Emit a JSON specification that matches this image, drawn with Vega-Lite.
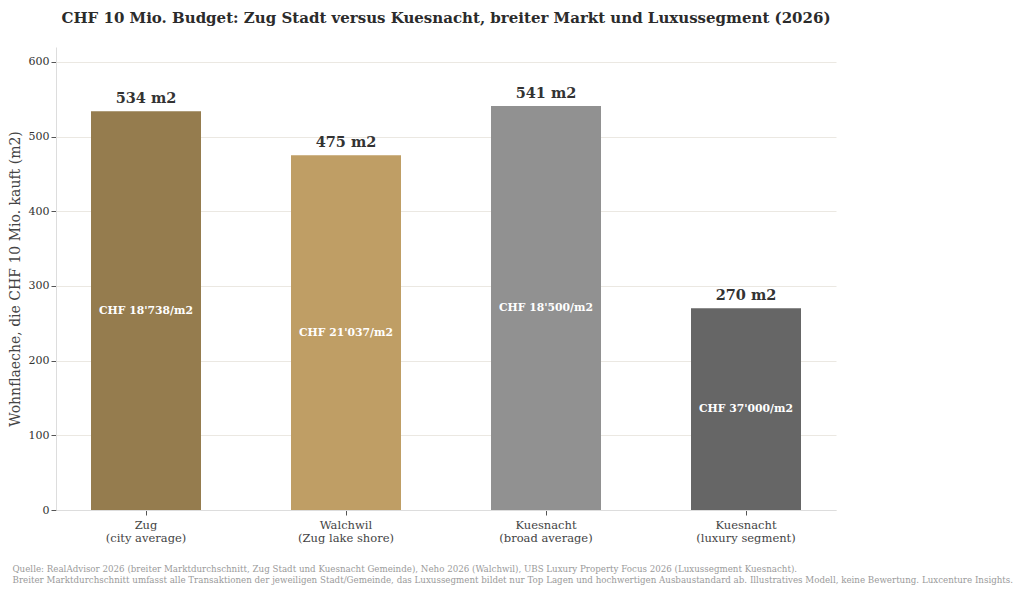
{
  "$schema": "https://vega.github.io/schema/vega-lite/v6.json",
  "title": {
    "text": "CHF 10 Mio. Budget: Zug Stadt versus Kuesnacht, breiter Markt und Luxussegment (2026)",
    "font": "DejaVu Serif",
    "fontSize": 15,
    "fontWeight": "bold",
    "color": "#2b2b2b",
    "anchor": "middle",
    "offset": 21
  },
  "width": 780,
  "height": 463,
  "padding": {"left": 8, "top": 11, "right": 5, "bottom": 5},
  "data": {
    "values": [
      {"ort": "Zug|(city average)", "m2": 534, "label": "534 m2", "preis": "CHF 18'738/m2", "farbe": "#957c4e"},
      {"ort": "Walchwil|(Zug lake shore)", "m2": 475, "label": "475 m2", "preis": "CHF 21'037/m2", "farbe": "#bf9e65"},
      {"ort": "Kuesnacht|(broad average)", "m2": 541, "label": "541 m2", "preis": "CHF 18'500/m2", "farbe": "#919191"},
      {"ort": "Kuesnacht|(luxury segment)", "m2": 270, "label": "270 m2", "preis": "CHF 37'000/m2", "farbe": "#666666"}
    ]
  },
  "encoding": {
    "x": {
      "field": "ort",
      "type": "nominal",
      "sort": null,
      "scale": {"paddingInner": 0.45, "paddingOuter": 0.175},
      "axis": {
        "labelAngle": 0,
        "labelExpr": "split(datum.label, '|')",
        "labelFont": "DejaVu Serif",
        "labelFontSize": 11.5,
        "labelColor": "#444444",
        "labelPadding": 4,
        "tickColor": "#555555",
        "tickSize": 5,
        "domainColor": "#dddddd",
        "title": [
          "Quelle: RealAdvisor 2026 (breiter Marktdurchschnitt, Zug Stadt und Kuesnacht Gemeinde), Neho 2026 (Walchwil), UBS Luxury Property Focus 2026 (Luxussegment Kuesnacht).",
          "Breiter Marktdurchschnitt umfasst alle Transaktionen der jeweiligen Stadt/Gemeinde, das Luxussegment bildet nur Top Lagen und hochwertigen Ausbaustandard ab. Illustratives Modell, keine Bewertung. Luxcenture Insights."
        ],
        "titleFont": "DejaVu Serif",
        "titleFontSize": 8.7,
        "titleFontWeight": "normal",
        "titleColor": "#9a9a9a",
        "titleAnchor": "start",
        "titleAlign": "left",
        "titleX": -44,
        "titleY": 54,
        "titleLineHeight": 11
      }
    }
  },
  "layer": [
    {
      "mark": {"type": "bar"},
      "encoding": {
        "y": {
          "field": "m2",
          "type": "quantitative",
          "scale": {"domain": [0, 620], "nice": false},
          "axis": {
            "values": [0, 100, 200, 300, 400, 500, 600],
            "title": "Wohnflaeche, die CHF 10 Mio. kauft (m2)",
            "titleFont": "DejaVu Serif",
            "titleFontSize": 14,
            "titleFontWeight": "normal",
            "titleColor": "#444444",
            "titlePadding": 6,
            "labelFont": "DejaVu Serif",
            "labelFontSize": 11,
            "labelColor": "#333333",
            "tickColor": "#555555",
            "tickSize": 5,
            "domainColor": "#dddddd",
            "gridColor": "#ebe8e2"
          }
        },
        "color": {"field": "farbe", "type": "nominal", "scale": null, "legend": null}
      }
    },
    {
      "mark": {"type": "text", "baseline": "bottom", "dy": -5, "font": "DejaVu Serif", "fontSize": 14.5, "fontWeight": "bold", "color": "#333333"},
      "encoding": {
        "y": {"field": "m2", "type": "quantitative"},
        "text": {"field": "label"}
      }
    },
    {
      "transform": [{"calculate": "datum.m2 / 2", "as": "mitte"}],
      "mark": {"type": "text", "baseline": "middle", "font": "DejaVu Serif", "fontSize": 10.8, "fontWeight": "bold", "color": "#ffffff"},
      "encoding": {
        "y": {"field": "mitte", "type": "quantitative"},
        "text": {"field": "preis"}
      }
    }
  ],
  "config": {
    "view": {"stroke": null},
    "axis": {"gridColor": "#ebe8e2"}
  }
}
